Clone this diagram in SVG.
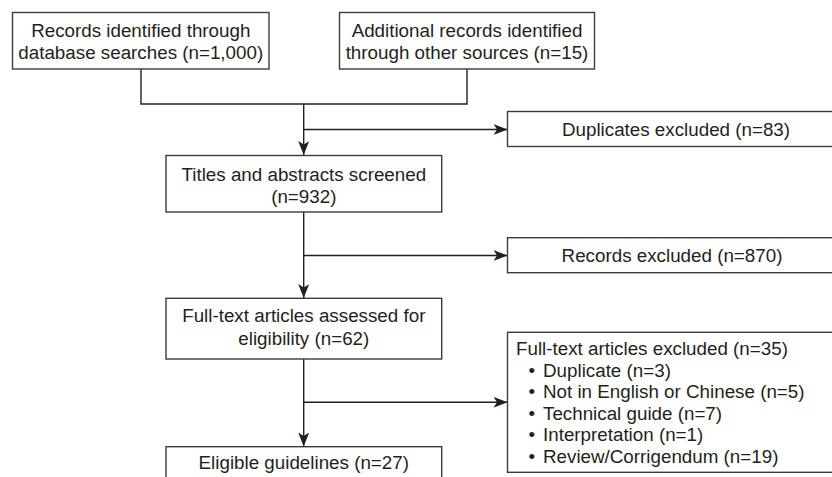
<svg xmlns="http://www.w3.org/2000/svg" width="832" height="477" viewBox="0 0 832 477">
<defs>
<style>
.box{fill:#fff;stroke:#3c3c3c;stroke-width:1.4}
.t{font-family:"Liberation Sans",Arial,Helvetica,sans-serif;font-size:18.8px;fill:#231f20}
.c{text-anchor:middle}
.ln{fill:none;stroke:#231f20;stroke-width:1.4}
</style>
<marker id="ah" markerUnits="userSpaceOnUse" markerWidth="16" markerHeight="12" refX="14" refY="5.5" orient="auto" viewBox="0 0 16 12">
<path d="M0,0 L14,5.5 L0,11 L3.5,5.5 Z" fill="#231f20"/>
</marker>
</defs>
<rect width="832" height="477" fill="#fff"/>
<g id="connectors">
<polyline class="ln" points="141,69 141,104 467,104 467,69"/>
<line class="ln" x1="303.7" y1="104" x2="303.7" y2="155" marker-end="url(#ah)"/>
<line class="ln" x1="303.7" y1="129.5" x2="507.5" y2="129.5" marker-end="url(#ah)"/>
<line class="ln" x1="303.7" y1="212" x2="303.7" y2="298" marker-end="url(#ah)"/>
<line class="ln" x1="303.7" y1="255.5" x2="507.5" y2="255.5" marker-end="url(#ah)"/>
<line class="ln" x1="303.7" y1="359" x2="303.7" y2="446.5" marker-end="url(#ah)"/>
<line class="ln" x1="303.7" y1="402.3" x2="507.5" y2="402.3" marker-end="url(#ah)"/>
</g>
<g id="n1">
<rect class="box" x="12.5" y="12.5" width="256.5" height="56.5"/>
<text class="t c" x="140.75" y="36.7">Records identified through</text>
<text class="t c" x="140.75" y="58.5">database searches (n=1,000)</text>
</g>
<g id="n2">
<rect class="box" x="339.5" y="12.5" width="255" height="56.5"/>
<text class="t c" x="467" y="36.7">Additional records identified</text>
<text class="t c" x="467" y="58.5">through other sources (n=15)</text>
</g>
<g id="n3">
<rect class="box" x="507.5" y="111.5" width="340" height="35"/>
<text class="t c" x="676" y="136">Duplicates excluded (n=83)</text>
</g>
<g id="n4">
<rect class="box" x="166" y="155.5" width="275.7" height="56.5"/>
<text class="t c" x="303.8" y="180.5">Titles and abstracts screened</text>
<text class="t c" x="303.8" y="202.5">(n=932)</text>
</g>
<g id="n5">
<rect class="box" x="507.5" y="237.7" width="340" height="35"/>
<text class="t c" x="672" y="262">Records excluded (n=870)</text>
</g>
<g id="n6">
<rect class="box" x="166" y="298.3" width="275.7" height="60.7"/>
<text class="t c" x="303.8" y="321.7">Full-text articles assessed for</text>
<text class="t c" x="303.8" y="345">eligibility (n=62)</text>
</g>
<g id="n7">
<rect class="box" x="507.5" y="332.3" width="340" height="140"/>
<text class="t" x="516" y="355">Full-text articles excluded (n=35)</text>
<text class="t" x="528.5" y="376.5">•<tspan x="543">Duplicate (n=3)</tspan></text>
<text class="t" x="528.5" y="398">•<tspan x="543">Not in English or Chinese (n=5)</tspan></text>
<text class="t" x="528.5" y="419.5">•<tspan x="543">Technical guide (n=7)</tspan></text>
<text class="t" x="528.5" y="441">•<tspan x="543">Interpretation (n=1)</tspan></text>
<text class="t" x="528.5" y="462.5">•<tspan x="543">Review/Corrigendum (n=19)</tspan></text>
</g>
<g id="n8">
<rect class="box" x="166" y="446.7" width="275.7" height="40"/>
<text class="t c" x="303.8" y="469">Eligible guidelines (n=27)</text>
</g>
</svg>
